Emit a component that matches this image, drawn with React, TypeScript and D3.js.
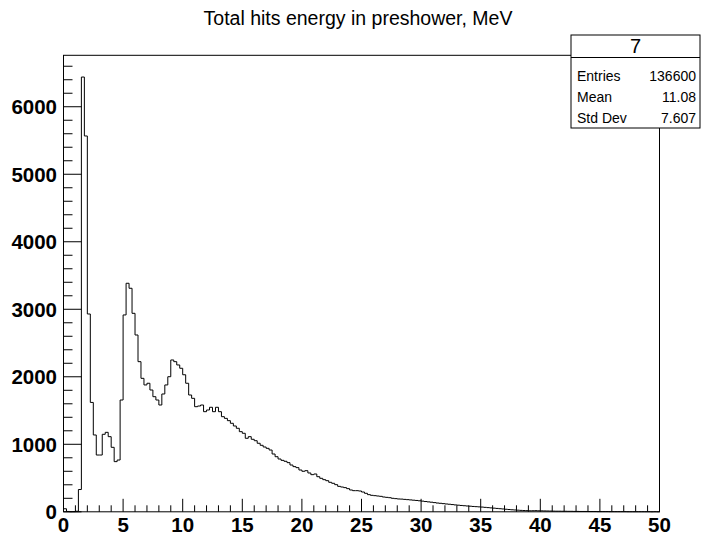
import React from "react";
import * as d3 from "d3";

const title = "Total hits energy in preshower, MeV";
const binLow = 0;
const binHigh = 50;
const counts: number[] = [
  45, 5, 2, 3, 8, 330, 6440, 5567, 2930, 1620,
  1138, 841, 841, 1148, 1177, 1113, 955, 743, 767, 1656,
  2916, 3385, 3311, 2940, 2619, 2224, 1977, 1879, 1904, 1804,
  1705, 1656, 1582, 1745, 1879, 2001, 2249, 2224, 2175, 2126,
  2030, 1904, 1730, 1681, 1557, 1567, 1582, 1483, 1508, 1548,
  1483, 1548, 1483, 1409, 1384, 1350, 1311, 1271, 1237, 1187,
  1163, 1089, 1113, 1074, 1053, 1015, 985, 960, 940, 915,
  856, 816, 782, 762, 748, 728, 693, 669, 654, 619,
  600, 609, 575, 550, 560, 520, 496, 476, 461, 437,
  422, 402, 377, 367, 358, 343, 323, 313, 313, 308,
  293, 274, 254, 244, 239, 234, 229, 219, 214, 209,
  200, 195, 190, 188, 184, 180, 176, 172, 168, 163,
  158, 152, 147, 142, 136, 130, 126, 121, 116, 112,
  107, 102, 98, 94, 90, 86, 83, 79, 76, 73,
  70, 66, 62, 58, 54, 50, 46, 42, 38, 34,
  30, 27, 24, 21, 19, 17, 15, 16, 17, 15,
  14, 13, 12, 11, 10, 9, 9, 8, 8, 7,
  7, 6, 6, 5, 5, 5, 4, 4, 4, 3,
  3, 3, 3, 2, 2, 2, 2, 2, 2, 1,
  1, 1, 1, 1, 1, 1, 1, 0, 1, 0,
];
const xMajorTicks = [0, 5, 10, 15, 20, 25, 30, 35, 40, 45, 50];
const yMajorTicks = [0, 1000, 2000, 3000, 4000, 5000, 6000];
const statsTitle = "7";
const statsLabels = ["Entries", "Mean", "Std Dev"];
const statsValues = ["136600", "11.08", "7.607"];

const W = 715;
const H = 539;
const FL = 63.5;
const FR = 659.5;
const FT = 55.3;
const FB = 511.8;

export default function App() {
  const nb = counts.length;
  const bw = (binHigh - binLow) / nb;
  const yMax = 1.05 * (d3.max(counts) as number);
  const x = d3.scaleLinear().domain([binLow, binHigh]).range([FL, FR]);
  const y = d3.scaleLinear().domain([0, yMax]).range([FB, FT]);

  const pts: [number, number][] = [[binLow, 0]];
  counts.forEach((c, i) => {
    pts.push([binLow + i * bw, c]);
    pts.push([binLow + (i + 1) * bw, c]);
  });
  pts.push([binHigh, 0]);
  const line = d3
    .line<[number, number]>()
    .x((d) => x(d[0]))
    .y((d) => y(d[1]));

  const xMinor = d3.range(binLow, binHigh + 0.001, 1).filter((v) => !xMajorTicks.includes(v));
  const yMinor = d3.range(0, yMax, 200).filter((v) => !yMajorTicks.includes(v));

  const font = "'Liberation Sans', Arial, Helvetica, sans-serif";
  const sbL = 571, sbR = 700, sbT = 35, sbB = 128, sbDiv = 57.5;

  return (
    <svg width={W} height={H} style={{ position: "absolute", left: 0, top: 0, background: "#fff" }}>
      <rect x={0} y={0} width={W} height={H} fill="#fff" />
      <text x={358} y={25} textAnchor="middle" fontFamily={font} fontSize={19.5} fill="#000">
        {title}
      </text>
      {/* frame */}
      <rect x={FL} y={FT} width={FR - FL} height={FB - FT} fill="none" stroke="#000" strokeWidth={1} />
      {/* histogram */}
      <path d={line(pts) || ""} fill="none" stroke="#000" strokeWidth={1} />
      {/* x ticks */}
      {xMajorTicks.map((v) => (
        <line key={"xm" + v} x1={x(v)} x2={x(v)} y1={FB} y2={FB - 13} stroke="#000" strokeWidth={1} />
      ))}
      {xMinor.map((v) => (
        <line key={"xn" + v} x1={x(v)} x2={x(v)} y1={FB} y2={FB - 6.5} stroke="#000" strokeWidth={1} />
      ))}
      {xMajorTicks.map((v) => (
        <text key={"xl" + v} x={x(v)} y={532} textAnchor="middle" fontFamily={font} fontWeight="bold" fontSize={20.5} fill="#000">
          {v}
        </text>
      ))}
      {/* y ticks */}
      {yMajorTicks.map((v) => (
        <line key={"ym" + v} x1={FL} x2={FL + 18} y1={y(v)} y2={y(v)} stroke="#000" strokeWidth={1} />
      ))}
      {yMinor.map((v) => (
        <line key={"yn" + v} x1={FL} x2={FL + 9} y1={y(v)} y2={y(v)} stroke="#000" strokeWidth={1} />
      ))}
      {yMajorTicks.map((v) => (
        <text key={"yl" + v} x={57} y={y(v) + 7.5} textAnchor="end" fontFamily={font} fontWeight="bold" fontSize={20.5} fill="#000">
          {v}
        </text>
      ))}
      {/* stats box */}
      <rect x={sbL} y={sbT} width={sbR - sbL} height={sbB - sbT} fill="#fff" stroke="#000" strokeWidth={1} />
      <line x1={sbL} x2={sbR} y1={sbDiv} y2={sbDiv} stroke="#000" strokeWidth={1} />
      <text x={(sbL + sbR) / 2} y={53} textAnchor="middle" fontFamily={font} fontSize={20} fill="#000">
        {statsTitle}
      </text>
      {statsLabels.map((l, i) => (
        <text key={"sl" + i} x={sbL + 6} y={81 + i * 21} fontFamily={font} fontSize={14} fill="#000">
          {l}
        </text>
      ))}
      {statsValues.map((v, i) => (
        <text key={"sv" + i} x={sbR - 4} y={81 + i * 21} textAnchor="end" fontFamily={font} fontSize={14} fill="#000">
          {v}
        </text>
      ))}
    </svg>
  );
}
